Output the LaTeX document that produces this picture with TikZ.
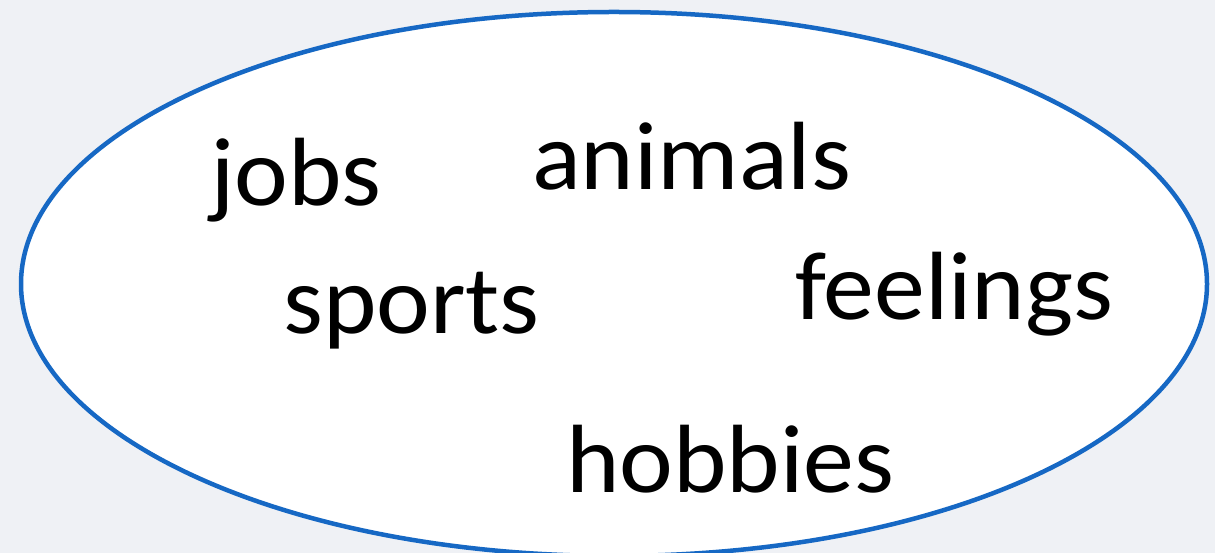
\documentclass[tikz,border=0pt]{standalone}
\usepackage{fontspec}
\setmainfont{Carlito}[FakeStretch=1.05]
\definecolor{bgpaper}{RGB}{239,241,245}
\definecolor{rimblue}{RGB}{22,104,196}
\tikzset{
  word/.style={inner sep=0pt, anchor=base west, font=\fontsize{97}{110}\selectfont, text=black},
  bubble/.style={draw=rimblue, line width=4.5pt, fill=white}
}
\begin{document}
\begin{tikzpicture}[x=1pt,y=1pt]
  % canvas
  \fill[bgpaper] (0,0) rectangle (1215,553);
  \useasboundingbox (0,0) rectangle (1215,553);
  % the big speech-bubble ellipse (runs off the bottom edge)
  \begin{scope}
    \clip (0,0) rectangle (1215,553);
    \draw[bubble] (614,269) ellipse [x radius=593, y radius=272];
  \end{scope}
  % topic words
  \node[word] (jobs) at (210,347) {jobs};
  \node[word] (animals) at (532,363) {animals};
  \node[word] (sports) at (283,219) {sports};
  \node[word] (feelings) at (795,233) {feelings};
  \node[word] (hobbies) at (566,60) {hobbies};
\end{tikzpicture}
\end{document}
